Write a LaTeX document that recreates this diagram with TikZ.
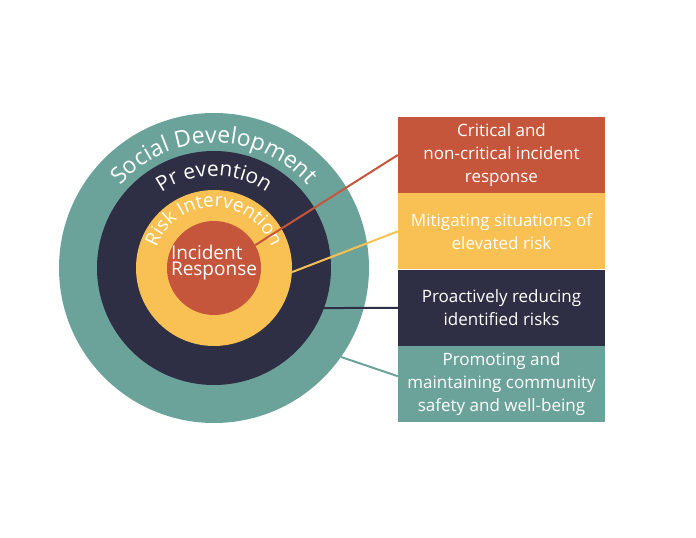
\documentclass[tikz,border=0pt]{standalone}
\usepackage{fontspec}
\setmainfont{Open Sans}
\usetikzlibrary{decorations.text, positioning}
\definecolor{irred}{HTML}{C5553B}
\definecolor{riyellow}{HTML}{F9C153}
\definecolor{pvnavy}{HTML}{2E2F45}
\definecolor{sdteal}{HTML}{6BA39A}

\begin{document}
\begin{tikzpicture}[x=1pt, y=1pt,
    ring/.style={circle, inner sep=0pt, minimum size=#1},
    b/.style={minimum width=207pt, minimum height=76pt, inner sep=0pt,
        align=center, text=white, font=\fontsize{17}{23}\selectfont},
    arctext/.style={decorate, decoration={text along path, text align=center,
        text color=white, text={#1}}}]
    \useasboundingbox (0,0) rectangle (696,538);
    % rings
    \node[ring=310pt, fill=sdteal] (sd) at (214,270) {};
    \node[ring=234pt, fill=pvnavy] (pv) at (sd.center) {};
    \node[ring=156pt, fill=riyellow] (ri) at (sd.center) {};
    \node[ring=94pt, fill=irred] (ir) at (sd.center) {};
    \node[text=white, align=left, font=\fontsize{19}{16}\selectfont]
        (irl) at ([yshift=5pt]ir.center) {Incident\\Response};
    \path[arctext={|\fontsize{23}{27}\selectfont|Social Development}]
        (sd.center) ++(180:125) arc (180:0:125);
    \path[arctext={|\fontsize{21}{25}\selectfont|Pr evention}]
        (sd.center) ++(180:92) arc (180:0:92);
    \path[arctext={|\fontsize{19}{23}\selectfont|Risk Intervention}]
        (sd.center) ++(180:61) arc (180:0:61);
    % boxes
    \node[b, fill=irred] (cr) at (501.5,383) {Critical and\\non-critical incident\\response};
    \node[b, fill=riyellow, below=0pt of cr] (mi) {Mitigating situations of\\elevated risk};
    \node[b, fill=pvnavy, below=0pt of mi] (pr) {Proactively reducing\\identified risks};
    \node[b, fill=sdteal, below=0pt of pr] (pm) {Promoting and\\maintaining community\\safety and well-being};
    \draw[irred, line width=2pt] (ir.29) -- (cr.west);
    \draw[riyellow, line width=2pt] (ri.-3) -- (mi.west);
    \draw[pvnavy, line width=2pt] (pv.-20) -- (pr.west);
    \draw[sdteal, line width=2pt] (sd.-35) -- ([yshift=8pt]pm.west);
\end{tikzpicture}
\end{document}
